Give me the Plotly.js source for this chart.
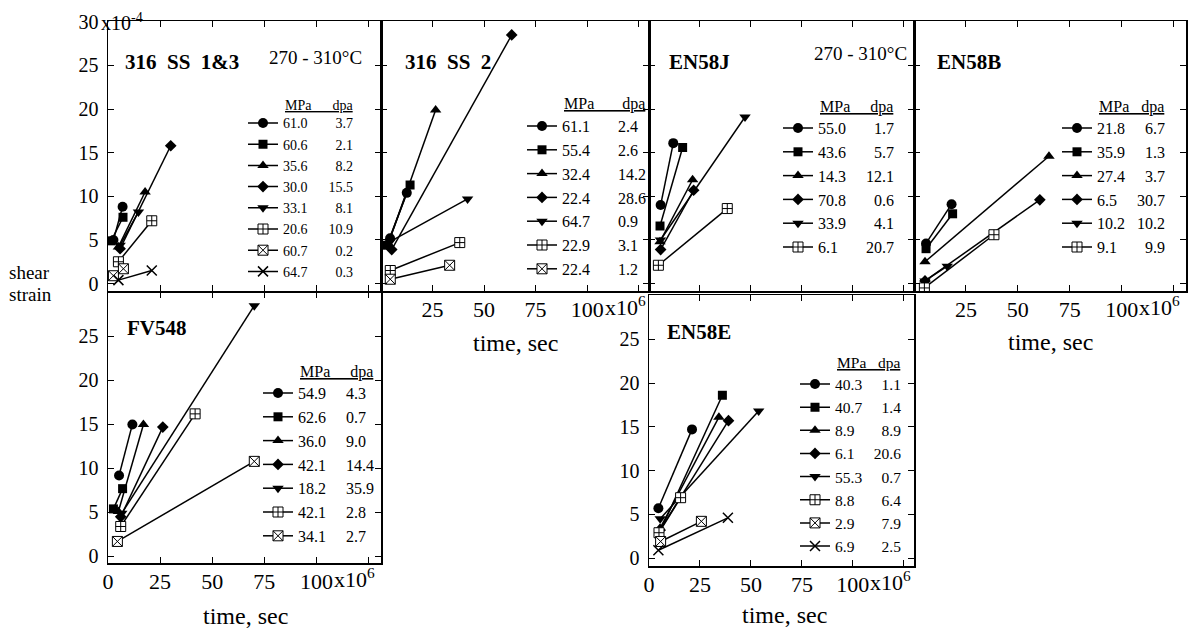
<!DOCTYPE html>
<html><head><meta charset="utf-8">
<script src="https://cdn.plot.ly/plotly-3.0.1.min.js"></script>
<style>html,body{margin:0;padding:0;background:#fff}#chart{width:1196px;height:628px}</style>
</head><body><div id="chart"></div>
<script>
// ---------------- DATA (time in 10^6 s, shear strain in 10^-4) ----------------
// 316 SS 1&3
const p1_mpa = ["61.0","60.6","35.6","30.0","33.1","20.6","60.7","64.7"];
const p1_dpa = ["3.7","2.1","8.2","15.5","8.1","10.9","0.2","0.3"];
const p1_time = [[2.6,7.0],[1.5,7.2],[5.0,17.8],[5.8,30.1],[5.8,14.6],[5.0,21.0],[2.6,7.4],[5.0,21.0]];
const p1_strain = [[5.0,8.8],[4.9,7.6],[4.2,10.5],[4.0,15.8],[4.4,8.2],[2.5,7.2],[0.9,1.7],[0.4,1.5]];
// 316 SS 2
const p2_mpa = ["61.1","55.4","32.4","22.4","64.7","22.9","22.4"];
const p2_dpa = ["2.4","2.6","14.2","28.6","0.9","3.1","1.2"];
const p2_time = [[4.4,12.5],[2.8,14.1],[3.5,26.5],[5.2,63.4],[4.4,42.0],[4.5,38.2],[4.5,33.3]];
const p2_strain = [[5.2,10.4],[4.4,11.3],[4.6,19.9],[3.9,28.5],[4.8,9.7],[1.5,4.7],[0.5,2.1]];
// EN58J
const p3_mpa = ["55.0","43.6","14.3","70.8","33.9","6.1"];
const p3_dpa = ["1.7","5.7","12.1","0.6","4.1","20.7"];
const p3_time = [[5.7,11.9],[5.4,16.5],[5.4,21.4],[5.7,21.9],[5.6,47.1],[4.6,38.4]];
const p3_strain = [[9.0,16.1],[6.6,15.6],[4.8,11.9],[3.9,10.7],[5.0,19.1],[2.1,8.6]];
// EN58B
const p4_mpa = ["21.8","35.9","27.4","6.5","10.2","9.1"];
const p4_dpa = ["6.7","1.3","3.7","30.7","10.2","9.9"];
const p4_time = [[5.8,18.1],[5.8,18.6],[5.3,65.0],[5.3,60.6],[5.3,16.0],[5.0,38.5]];
const p4_strain = [[4.6,9.1],[4.0,8.0],[2.5,14.6],[0.3,9.6],[0.3,2.0],[-0.5,5.6]];
// FV548
const p5_mpa = ["54.9","62.6","36.0","42.1","18.2","42.1","34.1"];
const p5_dpa = ["4.3","0.7","9.0","14.4","35.9","2.8","2.7"];
const p5_time = [[5.3,11.7],[2.6,7.0],[5.0,17.0],[6.1,26.3],[6.6,70.2],[6.1,41.8],[4.5,70.2]];
const p5_strain = [[9.2,15.0],[5.4,7.7],[5.1,15.0],[4.5,14.7],[4.9,28.5],[3.4,16.2],[1.7,10.8]];
// EN58E
const p6_mpa = ["40.3","40.7","8.9","6.1","55.3","8.8","2.9","6.9"];
const p6_dpa = ["1.1","1.4","8.9","20.6","0.7","6.4","7.9","2.5"];
const p6_time = [[4.6,21.1],[4.9,36.0],[5.4,34.3],[5.4,39.0],[5.5,53.8],[4.9,15.5],[5.7,25.7],[4.6,38.7]];
const p6_strain = [[5.7,14.7],[2.8,18.6],[3.4,16.1],[3.2,15.7],[4.5,16.8],[2.9,6.9],[1.9,4.2],[0.9,4.6]];

const panelTitles = ["316\u00a0\u00a0SS\u00a0\u00a01&3","316\u00a0\u00a0SS\u00a0\u00a02","EN58J","EN58B","FV548","EN58E"];
const tempLabel = "270 - 310°C";
const xTickVals = [0,25,50,75,100,125];
const yTickVals = [0,5,10,15,20,25,30];

// ---------------- STYLE / LAYOUT ----------------
const W = 1196, H = 628, F = "Liberation Serif";
const NB = "\u00a0";
const px = v => v / W;
const py = v => 1 - v / H;

const markerStyles = [
  {symbol:"circle", size:10, color:"#000", line:{width:0}},
  {symbol:"square", size:9, color:"#000", line:{width:0}},
  {symbol:"triangle-up", size:10, color:"#000", line:{width:0}},
  {symbol:"diamond", size:9, color:"#000", line:{width:0}},
  {symbol:"triangle-down", size:10, color:"#000", line:{width:0}},
  {symbol:"square-cross", size:10, color:"#fff", line:{color:"#000", width:1}},
  {symbol:"square-x", size:10, color:"#fff", line:{color:"#000", width:1}},
  {symbol:"x-thin", size:10, color:"#000", line:{color:"#000", width:1.5}}
];

const panels = [
  {mpa:p1_mpa, dpa:p1_dpa, t:p1_time, s:p1_strain, box:[108,381,21,291], xr:[0,131], yr:[-0.85,30.1],
   xlab:false, xzero:false, ylab:true, y30:true,
   leg:{text:283, row:123, head:106, fs:14, gap:0, sep:6, right:true},
   title:{x:123, y:62}, temp:{x:267, y:57}},
  {mpa:p2_mpa, dpa:p2_dpa, t:p2_time, s:p2_strain, box:[381,649,21,291], xr:[0,130], yr:[-0.85,30.1],
   xlab:true, xzero:false, ylab:false,
   leg:{text:562, row:126, head:104, fs:16, gap:0.9, sep:7, right:false},
   title:{x:403, y:62}, xtitle:{x:515, y:343}},
  {mpa:p3_mpa, dpa:p3_dpa, t:p3_time, s:p3_strain, box:[649,914,21,291], xr:[0,130], yr:[-0.85,30.1],
   xlab:false, xzero:false, ylab:false,
   leg:{text:818, row:128, head:107, fs:16, gap:3.9, sep:5, right:true},
   title:{x:667, y:62}, temp:{x:812, y:53}},
  {mpa:p4_mpa, dpa:p4_dpa, t:p4_time, s:p4_strain, box:[914,1186,21,291], xr:[0,131], yr:[-0.85,30.1],
   xlab:true, xzero:false, ylab:false,
   leg:{text:1097, row:128, head:107, fs:16, gap:3.8, sep:3, right:true},
   title:{x:935, y:62}, xtitle:{x:1050, y:342}},
  {mpa:p5_mpa, dpa:p5_dpa, t:p5_time, s:p5_strain, box:[108,381,292,563], xr:[0,131], yr:[-0.75,30.05],
   xlab:true, xzero:true, ylab:true, y30:false,
   leg:{text:298, row:393, head:372, fs:16, gap:0.4, sep:5, right:false},
   title:{x:125, y:328}, xtitle:{x:245, y:616}},
  {mpa:p6_mpa, dpa:p6_dpa, t:p6_time, s:p6_strain, box:[649,914,295,566], xr:[0,130], yr:[-0.9,30.05],
   xlab:true, xzero:true, ylab:true, y30:false,
   leg:{text:835, row:384, head:362, fs:15.5, gap:0, sep:3, right:true},
   title:{x:665, y:332}, xtitle:{x:784, y:615}}
];

const data = [];
const layout = {
  width:W, height:H, margin:{l:0,r:0,t:0,b:0},
  paper_bgcolor:"#fff", plot_bgcolor:"rgba(0,0,0,0)",
  font:{family:F, color:"#000"}, showlegend:true, hovermode:false,
  annotations:[]
};

function ann(o){ layout.annotations.push(Object.assign({showarrow:false, xref:"paper", yref:"paper", font:{family:F, size:20, color:"#000"}}, o)); }

const XF = 22; // x tick label font size
panels.forEach((p, i) => {
  const n = i === 0 ? "" : String(i + 1);
  const xa = "x" + n, ya = "y" + n, lg = "legend" + n;
  const fs = p.leg.fs;
  const pad = NB.repeat(p.leg.sep);
  p.t.forEach((tt, k) => {
    const mpa = p.mpa[k].length < 4 ? p.mpa[k] + NB + NB : p.mpa[k];
    const dpa = (p.leg.right && p.dpa[k].length < 4) ? NB + NB + p.dpa[k] : p.dpa[k];
    data.push({
      type:"scatter", mode:"lines+markers", x:tt, y:p.s[k], xaxis:xa, yaxis:ya,
      name: mpa + pad + dpa, legend:lg, legendgroup:"g" + i + "_" + k,
      line:{color:"#000", width:1.5}, marker:markerStyles[k]
    });
  });
  const h = fs * 1.3 + 3;
  layout[lg] = {
    x:px(p.leg.text - 40), xanchor:"left", y:py(p.leg.row - h/2 - 5), yanchor:"top",
    bgcolor:"rgba(0,0,0,0)", borderwidth:0, tracegroupgap:p.leg.gap,
    font:{family:F, size:fs, color:"#000"}, traceorder:"normal"
  };
  // labelled ticks are major ticks; every tick position is also drawn as a minor tick
  const xMajor = xTickVals.filter(v => v !== 125 && (v !== 0 || p.xzero));
  const yMajor = yTickVals.filter(v => v !== 30 || p.y30);
  const tickStyle = {ticks:"inside", ticklen:6, tickwidth:1, tickcolor:"#000"};
  const common = Object.assign({showline:true, mirror:"ticks", linecolor:"#000", linewidth:1.5,
    showgrid:false, zeroline:false, fixedrange:true, tickmode:"array", tickangle:0}, tickStyle);
  layout["xaxis" + n] = Object.assign({}, common, {
    domain:[px(p.box[0]), px(p.box[1])], range:p.xr, anchor:ya,
    tickvals:xMajor, ticktext:xMajor.map(String), showticklabels:p.xlab,
    minor:Object.assign({tickmode:"array", tickvals:xTickVals, showgrid:false}, tickStyle),
    tickfont:{family:F, size:XF, color:"#000"}, ticklabelstandoff:-2
  });
  layout["yaxis" + n] = Object.assign({}, common, {
    domain:[py(p.box[3]), py(p.box[2])], range:p.yr, anchor:xa,
    tickvals:yMajor, ticktext:yMajor.map(String), showticklabels:p.ylab,
    minor:Object.assign({tickmode:"array", tickvals:yTickVals, showgrid:false}, tickStyle),
    tickfont:{family:F, size:20, color:"#000"}, ticklabelstandoff:4
  });
  // exponent after the "100" tick label
  if (p.xlab) ann({text:"x10<sup>6</sup>", xref:xa, x:100, xanchor:"left", xshift:XF * 0.75 - 1,
    y:py(p.box[3] + 18), yanchor:"middle", yshift:3, font:{family:F, size:XF, color:"#000"}});
  // panel title
  ann({text:"<b>" + panelTitles[i] + "</b>", x:px(p.title.x), y:py(p.title.y), xanchor:"left", yanchor:"middle", font:{family:F, size:21, color:"#000"}});
  if (p.temp) ann({text:tempLabel, x:px(p.temp.x), y:py(p.temp.y), xanchor:"left", yanchor:"middle", font:{family:F, size:19, color:"#000"}});
  // legend header
  ann({text:"<u>MPa" + NB.repeat(p.leg.sep) + "dpa</u>", x:px(p.leg.text), y:py(p.leg.head), xanchor:"left", yanchor:"middle", font:{family:F, size:fs, color:"#000"}});
  if (p.xtitle) ann({text:"time, sec", x:px(p.xtitle.x), y:py(p.xtitle.y), xanchor:"center", yanchor:"middle", font:{family:F, size:24, color:"#000"}});
});

// y-axis exponent and shared axis label
ann({text:"x10<sup>-4</sup>", x:px(99), xanchor:"left", xref:"paper", y:30, yref:"y", yanchor:"middle", yshift:0, font:{family:F, size:20, color:"#000"}});
ann({text:"shear", x:px(7), y:py(272), xanchor:"left", yanchor:"middle", font:{family:F, size:19, color:"#000"}});
ann({text:"strain", x:px(7), y:py(294), xanchor:"left", yanchor:"middle", font:{family:F, size:19, color:"#000"}});

Plotly.newPlot("chart", data, layout, {staticPlot:true, displayModeBar:false});
</script>
</body></html>
